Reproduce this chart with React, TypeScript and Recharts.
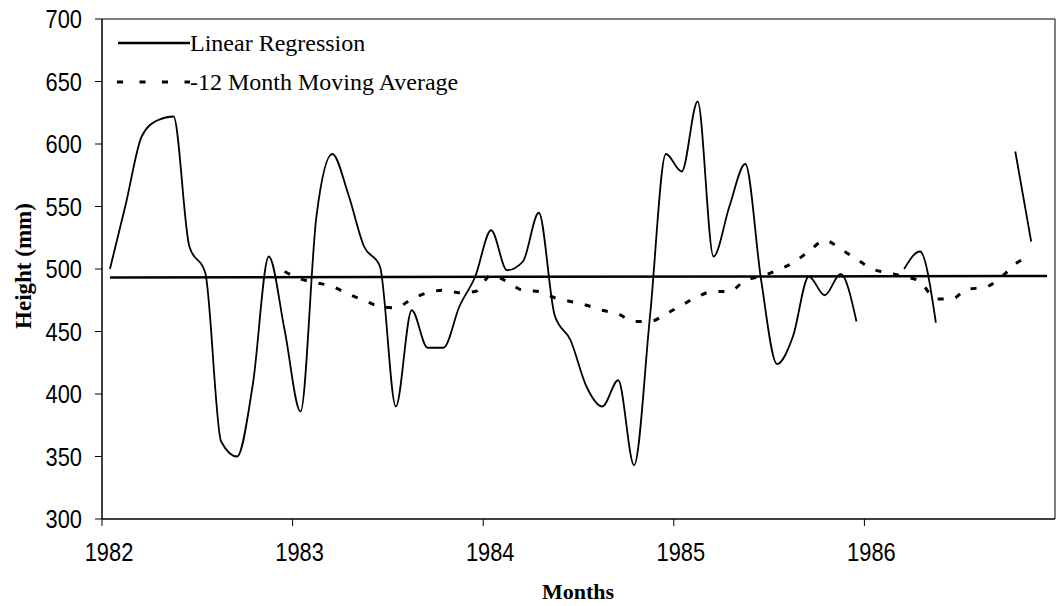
import {
  LineChart,
  Line,
  XAxis,
  YAxis,
  Legend,
  ReferenceArea,
} from 'recharts'

// one slot per month, Jan 1982 .. Dec 1986
const yearLabels = ['1982', '1983', '1984', '1985', '1986']
const yearTicks = [0, 12, 24, 36, 48]
const heightTicks = [300, 350, 400, 450, 500, 550, 600, 650, 700]

const monthlyHeight: (number | null)[] = [
  500, 552, 606, 619, 622, 518, 497, 362, 350, 408, 510, 451,
  386, 542, 592, 560, 518, 502, 390, 467, 437, 437, 470, 494,
  531, 499, 506, 545, 463, 443, 406, 390, 411, 343, 462, 592,
  578, 634, 510, 550, 584, 491, 424, 446, 494, 479, 496, 458,
  null, null, 500, 514, 457, null, null, null, null, 594, 522, null,
]

const movingAverage: (number | null)[] = [
  null, null, null, null, null, null, null, null, null, null, null, 498,
  492, 489, 486, 480, 475, 470, 469, 476, 481, 483, 481, 482,
  495, 490, 483, 482, 477, 474, 471, 467, 464, 458, 458, 464,
  471, 478, 482, 482, 491, 494, 499, 505, 514, 523, 516, 508,
  500, 497, 494, 490, 476, 476, 484, 485, 492, 504, 511, null,
]

// fitted line, first and last month
const regressionEnds = [493.3, 494.4]

const series = monthlyHeight.map((h, i) => ({
  x: i + 0.5,
  height: h,
  avg: movingAverage[i],
}))

const regression = [
  { x: 0.5, reg: regressionEnds[0] },
  { x: monthlyHeight.length - 0.5, reg: regressionEnds[1] },
]

const tickFont = "'Liberation Sans', Arial, sans-serif"
const serif = "'Liberation Serif', 'Times New Roman', serif"

// narrow look of the original tick font
function YearTick(props: any) {
  const { x, y, payload } = props
  const label = yearLabels[yearTicks.indexOf(payload.value)] ?? ''
  return (
    <text
      transform={`translate(${x + 7},${y}) scale(0.84,1)`}
      textAnchor="middle"
      dy="0.71em"
      fontFamily={tickFont}
      fontSize={26}
      fill="#000"
    >
      {label}
    </text>
  )
}

function HeightTick(props: any) {
  const { x, y, payload } = props
  return (
    <text
      transform={`translate(${x},${y}) scale(0.84,1)`}
      textAnchor="end"
      dy="0.355em"
      fontFamily={tickFont}
      fontSize={26}
      fill="#000"
    >
      {payload.value}
    </text>
  )
}

function LegendBox() {
  const row = { display: 'flex', alignItems: 'center', height: 28 } as const
  return (
    <div style={{ fontFamily: serif, fontSize: 24, color: '#000', lineHeight: 1 }}>
      <div style={row}>
        <svg width={74} height={10}>
          <line x1={2} y1={5} x2={74} y2={5} stroke="#000" strokeWidth={2.5} />
        </svg>
        <span>Linear Regression</span>
      </div>
      <div style={{ ...row, marginTop: 11 }}>
        <svg width={74} height={10}>
          <line x1={1} y1={5} x2={74} y2={5} stroke="#000" strokeWidth={3} strokeDasharray="6 16.5" />
        </svg>
        <span>-12 Month Moving Average</span>
      </div>
    </div>
  )
}

function HeightLabel() {
  return (
    <text
      x={23}
      y={266}
      transform="rotate(-90 23 266)"
      textAnchor="middle"
      dominantBaseline="central"
      fontFamily={serif}
      fontWeight="bold"
      fontSize={23}
      fill="#000"
    >
      Height (mm)
    </text>
  )
}

function MonthsLabel() {
  return (
    <text x={578} y={599} textAnchor="middle" fontFamily={serif} fontWeight="bold" fontSize={22} fill="#000">
      Months
    </text>
  )
}

export default function App() {
  return (
    <div style={{ width: 1059, height: 606, background: '#fff' }}>
      <style>{'body{margin:0}'}</style>
      <LineChart width={1059} height={606} margin={{ top: 19, right: 4, left: 0, bottom: 0 }}>
        <XAxis
          type="number"
          dataKey="x"
          domain={[0, 60]}
          ticks={yearTicks}
          height={87}
          tickSize={7}
          tickMargin={17}
          axisLine={{ stroke: '#000' }}
          tickLine={{ stroke: '#000' }}
          tick={<YearTick />}
          allowDataOverflow
          label={{ content: MonthsLabel }}
        />
        <YAxis
          type="number"
          domain={[300, 700]}
          ticks={heightTicks}
          width={102}
          tickSize={7}
          tickMargin={13}
          axisLine={{ stroke: '#000' }}
          tickLine={{ stroke: '#000' }}
          tick={<HeightTick />}
          label={{ content: HeightLabel }}
        />
        <ReferenceArea x1={0} x2={60} y1={300} y2={700} fill="none" stroke="#000" strokeWidth={1} />
        <Line
          data={series}
          dataKey="height"
          type="monotone"
          stroke="#000"
          strokeWidth={1.8}
          dot={false}
          connectNulls={false}
          isAnimationActive={false}
        />
        <Line
          data={series}
          dataKey="avg"
          type="monotone"
          stroke="#000"
          strokeWidth={3}
          strokeDasharray="6 12"
          dot={false}
          connectNulls={false}
          isAnimationActive={false}
        />
        <Line
          data={regression}
          dataKey="reg"
          type="linear"
          stroke="#000"
          strokeWidth={2.5}
          dot={false}
          isAnimationActive={false}
        />
        <Legend
          layout="horizontal"
          verticalAlign="middle"
          align="center"
          wrapperStyle={{ top: 29, left: 116, width: 'auto' }}
          content={<LegendBox />}
        />
      </LineChart>
    </div>
  )
}
